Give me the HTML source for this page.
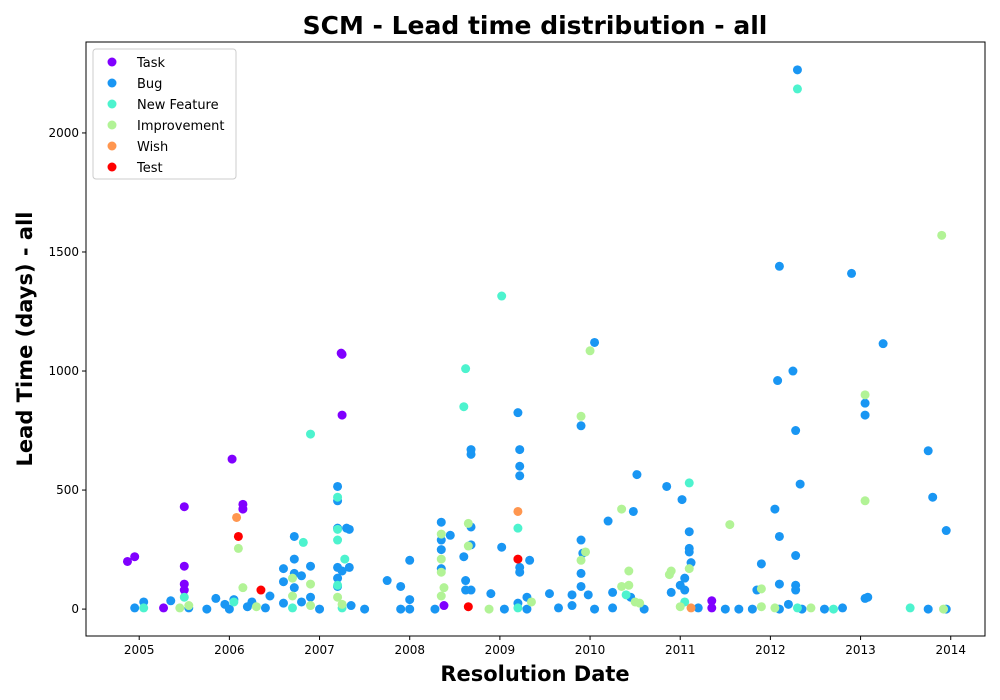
<!DOCTYPE html>
<html><head><meta charset="utf-8"><style>
body{margin:0;background:#fff;}
svg{display:block;font-family:"DejaVu Sans","Liberation Sans",sans-serif;}
</style></head><body>
<svg id="chart" width="1000" height="700">
<rect width="1000" height="700" fill="#fff"/>
<text x="535" y="34" text-anchor="middle" font-size="25" font-weight="bold">SCM - Lead time distribution - all</text>
<g id="plot"></g>
<rect x="86" y="42" width="899" height="594" fill="none" stroke="#000" stroke-width="1"/>
<text x="535" y="681" text-anchor="middle" font-size="21" font-weight="bold">Resolution Date</text>
<text transform="translate(32,339) rotate(-90)" text-anchor="middle" font-size="21" font-weight="bold">Lead Time (days) - all</text>
<g id="legend">
<rect x="93" y="49" width="143" height="130" rx="3" fill="#fff" stroke="#ccc"/>
</g>
</svg>
<script>
const xTicks=[2005,2006,2007,2008,2009,2010,2011,2012,2013,2014];
const yTicks=[0,500,1000,1500,2000];
const categories=["Task","Bug","New Feature","Improvement","Wish","Test"];
const colors=["#8000ff","#1996f3","#4df3ce","#b2f396","#ff964f","#ff0000"];
const taskPts=[[2004.87,200],[2004.95,220],[2005.27,5],[2005.5,430],[2005.5,180],[2005.5,105],[2005.5,80],[2006.03,630],[2006.15,420],[2006.15,440],[2007.25,1070],[2007.24,1075],[2007.25,815],[2008.38,15],[2011.35,35],[2011.35,5]];
const bugPts=[[2004.95,5],[2005.05,30],[2005.35,35],[2005.55,5],[2005.75,0],[2005.85,45],[2005.95,20],[2006.0,0],[2006.05,40],[2006.2,10],[2006.25,30],[2006.4,5],[2006.45,55],[2006.6,170],[2006.6,115],[2006.6,25],[2006.72,305],[2006.72,210],[2006.72,150],[2006.72,90],[2006.8,140],[2006.8,30],[2006.9,180],[2006.9,50],[2007.0,0],[2007.2,515],[2007.2,455],[2007.2,340],[2007.2,175],[2007.2,130],[2007.2,95],[2007.25,160],[2007.3,340],[2007.33,335],[2007.33,175],[2007.35,15],[2007.5,0],[2007.75,120],[2007.9,95],[2007.9,0],[2008.0,205],[2008.0,40],[2008.0,0],[2008.28,0],[2008.35,365],[2008.35,290],[2008.35,250],[2008.35,170],[2008.45,310],[2008.6,220],[2008.62,120],[2008.62,80],[2008.68,670],[2008.68,650],[2008.68,345],[2008.68,270],[2008.68,80],[2008.9,65],[2009.02,260],[2009.05,0],[2009.2,825],[2009.22,670],[2009.22,600],[2009.22,560],[2009.22,175],[2009.22,155],[2009.2,25],[2009.3,50],[2009.33,205],[2009.3,0],[2009.55,65],[2009.65,5],[2009.8,15],[2009.8,60],[2009.9,770],[2009.9,290],[2009.92,235],[2009.9,150],[2009.9,95],[2009.98,60],[2010.05,1120],[2010.05,0],[2010.2,370],[2010.25,70],[2010.25,5],[2010.45,50],[2010.48,410],[2010.52,565],[2010.6,0],[2010.85,515],[2010.9,70],[2011.0,100],[2011.02,460],[2011.05,130],[2011.05,80],[2011.1,325],[2011.1,255],[2011.1,240],[2011.12,195],[2011.2,5],[2011.5,0],[2011.65,0],[2011.8,0],[2011.85,80],[2011.9,190],[2012.05,420],[2012.1,1440],[2012.08,960],[2012.1,305],[2012.1,105],[2012.1,0],[2012.2,20],[2012.25,1000],[2012.28,750],[2012.28,225],[2012.28,100],[2012.28,80],[2012.3,2265],[2012.33,525],[2012.35,0],[2012.6,0],[2012.8,5],[2012.9,1410],[2013.05,865],[2013.05,815],[2013.05,45],[2013.08,50],[2013.25,1115],[2013.75,665],[2013.8,470],[2013.95,330],[2013.95,0],[2013.75,0]];
const newFeaturePts=[[2005.05,5],[2005.5,50],[2006.05,30],[2006.7,5],[2006.82,280],[2006.9,735],[2007.2,470],[2007.2,335],[2007.2,290],[2007.28,210],[2007.2,100],[2007.25,5],[2008.62,1010],[2008.6,850],[2009.02,1315],[2009.2,340],[2009.2,5],[2010.4,60],[2011.1,530],[2011.05,30],[2012.3,2185],[2012.3,5],[2013.55,5],[2012.7,0]];
const improvementPts=[[2005.45,5],[2005.55,15],[2006.1,255],[2006.15,90],[2006.3,10],[2006.7,130],[2006.7,55],[2006.9,105],[2006.9,15],[2007.2,50],[2007.25,20],[2008.35,315],[2008.35,210],[2008.35,155],[2008.38,90],[2008.35,55],[2008.65,360],[2008.65,265],[2008.88,0],[2009.35,30],[2009.9,810],[2009.9,205],[2009.95,240],[2010.0,1085],[2010.35,420],[2010.35,95],[2010.43,100],[2010.43,160],[2010.5,30],[2010.55,25],[2010.88,145],[2010.9,160],[2011.1,170],[2011.0,10],[2011.55,355],[2011.9,85],[2011.9,10],[2012.05,5],[2012.45,5],[2013.05,900],[2013.05,455],[2013.9,1570],[2013.92,0]];
const wishPts=[[2006.08,385],[2009.2,410],[2011.12,5]];
const testPts=[[2006.1,305],[2006.35,80],[2008.65,10],[2009.2,210]];
const series=[taskPts,bugPts,newFeaturePts,improvementPts,wishPts,testPts];

const NS="http://www.w3.org/2000/svg";
const X0=86,X1=985,Y0=636,Y1=42;
const xMin=2004.41,xMax=2014.38,yMin=-113,yMax=2382;
function sx(v){return X0+(v-xMin)/(xMax-xMin)*(X1-X0);}
function sy(v){return Y0-(v-yMin)/(yMax-yMin)*(Y0-Y1);}
const svg=document.getElementById('chart');
const plot=document.getElementById('plot');
function mk(t,a,p){const e=document.createElementNS(NS,t);for(const k in a)e.setAttribute(k,a[k]);(p||svg).appendChild(e);return e;}
xTicks.forEach(t=>{
  const g=mk('g',{});
  
  
  mk('line',{x1:sx(t),x2:sx(t),y1:Y0,y2:Y0+4,stroke:'#000'},g);
  const tx=mk('text',{x:sx(t),y:Y0+18,'text-anchor':'middle','font-size':12},g);tx.textContent=t;
});
yTicks.forEach(t=>{
  const g=mk('g',{});
  
  
  mk('line',{x1:X0-4,x2:X0,y1:sy(t),y2:sy(t),stroke:'#000'},g);
  const tx=mk('text',{x:X0-7,y:sy(t)+4,'text-anchor':'end','font-size':12},g);tx.textContent=t;
});
series.forEach((pts,i)=>{
  pts.forEach(p=>{
    const c=mk('circle',{cx:sx(p[0]),cy:sy(p[1]),r:4.5,fill:colors[i]},plot);
    
    
  });
});
const lg=document.getElementById('legend');
categories.forEach((c,i)=>{
  const g=mk('g',{},lg);
  
  
  const y=62+i*21;
  mk('circle',{cx:112,cy:y,r:4.5,fill:colors[i]},g);
  const t=mk('text',{x:137,y:y+5,'font-size':13},g);t.textContent=c;
});
</script>
</body></html>
